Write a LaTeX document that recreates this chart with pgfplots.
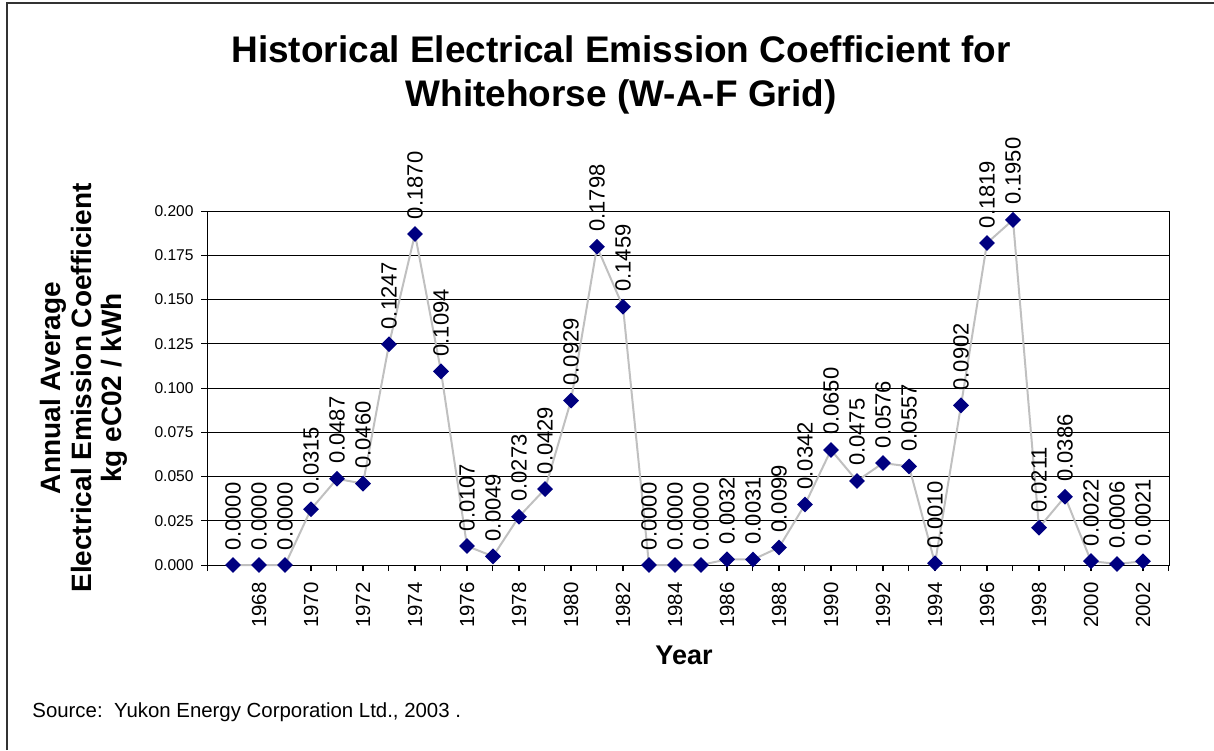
\documentclass[border=0pt]{standalone}
\usepackage{fontspec}
\setmainfont{Liberation Sans}
\usepackage{pgfplots}
\pgfplotsset{compat=1.18}
\definecolor{navy}{RGB}{0,0,128}
\definecolor{linegray}{RGB}{192,192,192}

\begin{document}
\begin{tikzpicture}
\useasboundingbox (0pt,0pt) rectangle (607pt,-375pt);
\draw[line width=1.2pt, black!80] (3.5pt,-375pt) -- (3.5pt,-1.5pt) -- (607pt,-1.5pt);

\node[anchor=base, font=\fontsize{18.5}{22}\bfseries] at (310.5pt,-31pt) {Historical Electrical Emission Coefficient for};
\node[anchor=base, font=\fontsize{18.5}{22}\bfseries] at (310.5pt,-53pt) {Whitehorse (W-A-F Grid)};

\begin{axis}[
  at={(103.5pt,-282.5pt)}, anchor=south west,
  scale only axis, width=481pt, height=177pt,
  xmin=1966, xmax=2003, ymin=0, ymax=0.2,
  clip=false,
  /pgf/number format/assume math mode=true,
  xtick={1968,1970,...,2002},
  minor xtick={1966,1967,...,2003},
  ytick={0,0.025,0.05,0.075,0.1,0.125,0.15,0.175,0.2},
  scaled y ticks=false,
  xtick pos=bottom, ytick pos=left,
  tick align=outside,
  major tick length=3pt, minor tick length=3pt,
  every tick/.style={black, line width=0.5pt},
  axis line style={black, line width=0.5pt},
  ymajorgrids, grid style={black, line width=0.5pt},
  x tick label style={font=\fontsize{10.2}{12}\selectfont, rotate=90, anchor=east, inner sep=0pt,
    /pgf/number format/1000 sep={}},
  xticklabel shift=5.5pt,
  y tick label style={font=\fontsize{7.8}{9}\selectfont, inner sep=0pt,
    /pgf/number format/.cd, fixed, fixed zerofill, precision=3},
  yticklabel shift=3.5pt,
  nodes near coords={\pgfmathprintnumber[fixed,fixed zerofill,precision=4]{\pgfplotspointmeta}},
  every node near coord/.append style={rotate=90, anchor=west, inner xsep=7pt, inner ysep=0pt,
    font=\fontsize{11}{12}\selectfont, black},
]
\addplot[linegray, line width=1pt, mark=square*, mark size=2.3pt,
  mark options={navy, fill=navy, rotate=45, solid}] table {
year val
1967 0.0000
1968 0.0000
1969 0.0000
1970 0.0315
1971 0.0487
1972 0.0460
1973 0.1247
1974 0.1870
1975 0.1094
1976 0.0107
1977 0.0049
1978 0.0273
1979 0.0429
1980 0.0929
1981 0.1798
1982 0.1459
1983 0.0000
1984 0.0000
1985 0.0000
1986 0.0032
1987 0.0031
1988 0.0099
1989 0.0342
1990 0.0650
1991 0.0475
1992 0.0576
1993 0.0557
1994 0.0010
1995 0.0902
1996 0.1819
1997 0.1950
1998 0.0211
1999 0.0386
2000 0.0022
2001 0.0006
2002 0.0021
};
\end{axis}

\node[rotate=90, align=center, font=\fontsize{14}{15.3}\bfseries] at (42pt,-194pt)
  {Annual Average\\Electrical Emission Coefficient\\kg eC02 / kWh};
\node[font=\fontsize{13.5}{16}\bfseries] at (342pt,-327.5pt) {Year};
\node[anchor=base west, inner sep=0pt, font=\fontsize{10.2}{12}\selectfont] at (16pt,-358.5pt)
  {Source:\ \ Yukon Energy Corporation Ltd., 2003 .};
\end{tikzpicture}
\end{document}
